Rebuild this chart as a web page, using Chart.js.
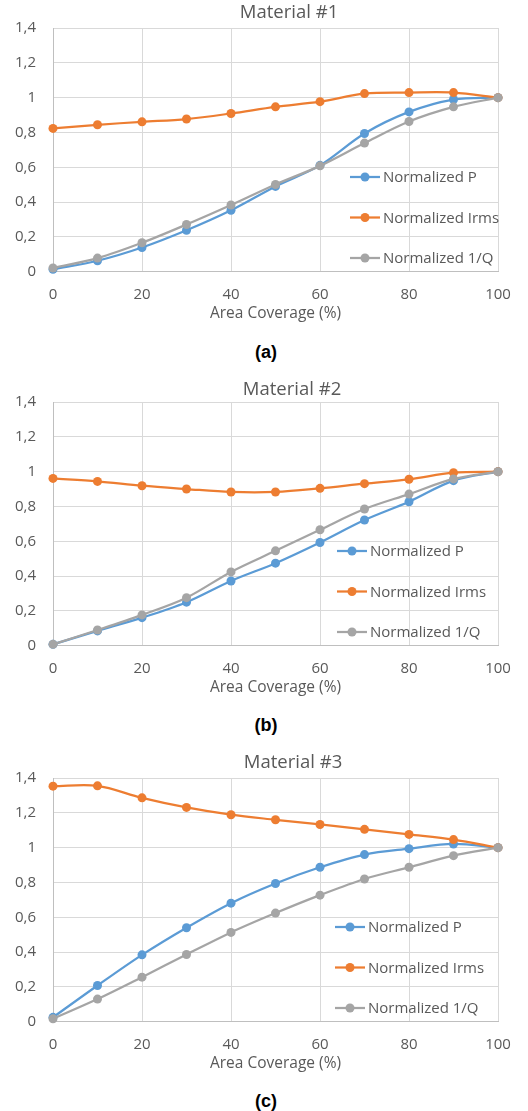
<!DOCTYPE html>
<html>
<head>
<meta charset="utf-8">
<script src="https://cdn.jsdelivr.net/npm/chart.js@4"></script>
<style>
  html, body { margin: 0; padding: 0; background: #fff; }
  body { width: 528px; height: 1111px; position: relative; overflow: hidden; }
  .wrap { position: absolute; left: 0; width: 528px; height: 324px; }
  .cap { position: absolute; left: 0; width: 532px; text-align: center; font: bold 18px "Liberation Sans", Arial, sans-serif; color: #000; line-height: 20px; }
</style>
</head>
<body>
<div class="wrap" style="top:0px"><canvas id="c1" width="528" height="324"></canvas></div>
<div class="cap" style="top:342px">(a)</div>
<div class="wrap" style="top:374px"><canvas id="c2" width="528" height="324"></canvas></div>
<div class="cap" style="top:715px">(b)</div>
<div class="wrap" style="top:750px"><canvas id="c3" width="528" height="324"></canvas></div>
<div class="cap" style="top:1091px">(c)</div>
<script>
// ---- data ----
const coverage = [0, 10, 20, 30, 40, 50, 60, 70, 80, 90, 100];
const seriesNames = ['Normalized P', 'Normalized Irms', 'Normalized 1/Q'];
const chartTitles = ['Material #1', 'Material #2', 'Material #3'];
const xTitle = 'Area Coverage (%)';
const yTickLabels = ['0', '0,2', '0,4', '0,6', '0,8', '1', '1,2', '1,4'];

const m1P    = [0.014, 0.063, 0.139, 0.238, 0.353, 0.490, 0.611, 0.794, 0.918, 0.989, 1.0];
const m1Irms = [0.823, 0.844, 0.861, 0.877, 0.909, 0.947, 0.977, 1.023, 1.029, 1.029, 1.0];
const m1Q    = [0.021, 0.078, 0.166, 0.271, 0.383, 0.501, 0.608, 0.739, 0.863, 0.947, 1.0];

const m2P    = [0.008, 0.085, 0.161, 0.250, 0.372, 0.474, 0.593, 0.722, 0.827, 0.948, 1.0];
const m2Irms = [0.961, 0.944, 0.919, 0.900, 0.883, 0.883, 0.904, 0.931, 0.956, 0.994, 1.0];
const m2Q    = [0.008, 0.090, 0.177, 0.276, 0.424, 0.545, 0.666, 0.785, 0.871, 0.958, 1.0];

const m3P    = [0.025, 0.208, 0.384, 0.540, 0.681, 0.794, 0.887, 0.960, 0.994, 1.021, 1.0];
const m3Irms = [1.353, 1.355, 1.286, 1.231, 1.189, 1.160, 1.133, 1.105, 1.076, 1.046, 1.0];
const m3Q    = [0.017, 0.130, 0.256, 0.386, 0.513, 0.624, 0.727, 0.820, 0.887, 0.954, 1.0];

// ---- style ----
const colors = ['#5B9BD5', '#ED7D31', '#A5A5A5'];
const textColor = '#595959';
const gridColor = '#d9d9d9';
const axisColor = '#bfbfbf';

Chart.defaults.font.family = '"Open Sans", sans-serif';
Chart.defaults.color = textColor;

// shifts the library's title block so it is centred like the original
const titleShift = {
  id: 'titleShift',
  afterLayout(chart, args, opts) {
    const t = chart.titleBlock;
    if (!t) return;
    const w = t.right - t.left;
    t.left = opts.cx - w / 2;
    t.right = opts.cx + w / 2;
  }
};

const excelLegend = {
  id: 'excelLegend',
  afterDatasetsDraw(chart, args, opts) {
    const ctx = chart.ctx;
    ctx.save();
    chart.data.datasets.forEach((ds, i) => {
      const y = opts.y + i * opts.gap;
      ctx.strokeStyle = ds.borderColor;
      ctx.lineWidth = 2.25;
      ctx.beginPath();
      ctx.moveTo(opts.x, y);
      ctx.lineTo(opts.x + 30, y);
      ctx.stroke();
      ctx.fillStyle = ds.borderColor;
      ctx.beginPath();
      ctx.arc(opts.x + 15, y, 4.5, 0, Math.PI * 2);
      ctx.fill();
      ctx.fillStyle = textColor;
      ctx.font = '15px "Open Sans", sans-serif';
      ctx.textBaseline = 'middle';
      ctx.textAlign = 'left';
      ctx.fillText(ds.label, opts.x + 33, y + 1);
    });
    ctx.restore();
  }
};

function makeChart(id, title, series, legendX, titleCx, titlePadTop) {
  const datasets = series.map((vals, i) => ({
    label: seriesNames[i],
    data: coverage.map((x, k) => ({ x: x, y: vals[k] })),
    borderColor: colors[i],
    backgroundColor: colors[i],
    pointBackgroundColor: colors[i],
    pointBorderColor: colors[i],
    borderWidth: 2.25,
    pointRadius: 4.5,
    pointBorderWidth: 0,
    tension: 0.33,
    clip: false,
    order: 2 - i
  }));
  return new Chart(document.getElementById(id), {
    type: 'line',
    data: { datasets },
    options: {
      responsive: false,
      animation: false,
      events: [],
      layout: { padding: { left: 0, right: 30, top: 0, bottom: 0 } },
      plugins: {
        legend: { display: false },
        tooltip: { enabled: false },
        title: {
          display: true,
          text: title,
          color: textColor,
          font: { size: 18.5, weight: 'normal', lineHeight: 1.2 },
          padding: { top: titlePadTop, bottom: 28 - titlePadTop - 22.2 }
        },
        titleShift: { cx: titleCx },
        excelLegend: { x: legendX, y: 177, gap: 40.5 }
      },
      scales: {
        x: {
          type: 'linear',
          min: 0, max: 100,
          afterFit: s => { s.height = 52.3; },
          ticks: { stepSize: 20, padding: 14, color: textColor, font: { size: 15 } },
          grid: { color: gridColor, drawTicks: false },
          border: { color: axisColor },
          title: { display: true, text: xTitle, color: textColor, font: { size: 15.5 }, padding: { top: 0, bottom: 1.5 } }
        },
        y: {
          min: 0, max: 1.4,
          afterFit: s => { s.width = 53; },
          ticks: {
            stepSize: 0.2, padding: 17, color: textColor, font: { size: 15 },
            callback: (v, idx) => yTickLabels[idx]
          },
          grid: { color: gridColor, drawTicks: false },
          border: { color: axisColor }
        }
      }
    },
    plugins: [titleShift, excelLegend]
  });
}

makeChart('c1', chartTitles[0], [m1P, m1Irms, m1Q], 350, 289, 2);
makeChart('c2', chartTitles[1], [m2P, m2Irms, m2Q], 337, 292, 4.5);
makeChart('c3', chartTitles[2], [m3P, m3Irms, m3Q], 335, 293, 2);
</script>
</body>
</html>
